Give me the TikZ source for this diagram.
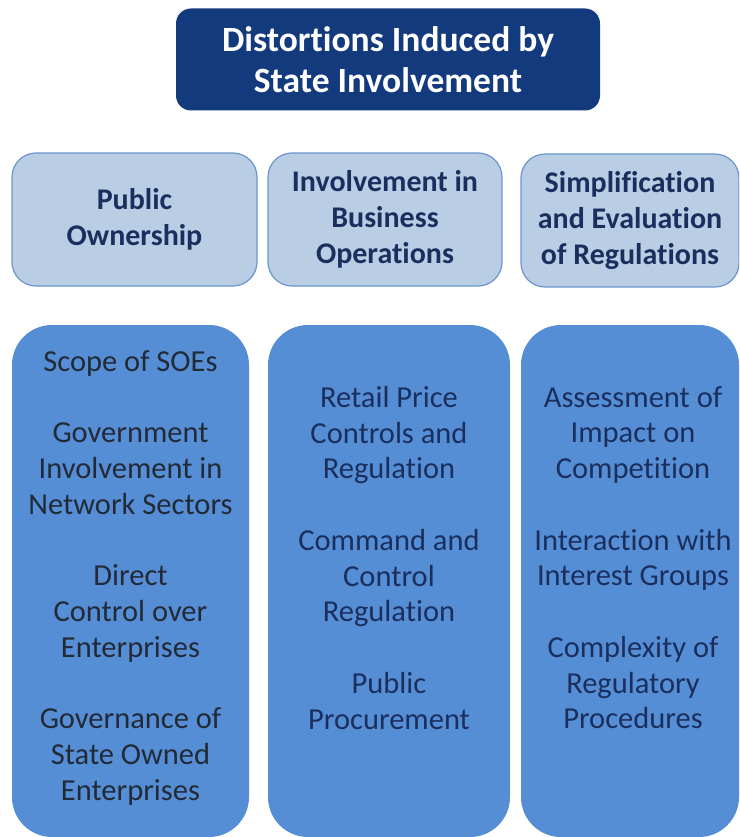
\documentclass[tikz,border=0pt]{standalone}
\usepackage{fontspec}
\setmainfont[Ligatures=NoCommon]{Carlito}
\usepackage{tikz}
\usetikzlibrary{positioning}
\definecolor{navy}{HTML}{133A7C}
\definecolor{paleblue}{HTML}{B9CDE5}
\definecolor{edgeblue}{HTML}{6B95CC}
\definecolor{midblue}{HTML}{558ED5}
\definecolor{inkblue}{HTML}{1B2F5E}
\definecolor{inkdark}{HTML}{222A38}
\tikzset{top/.style={fill=navy,rounded corners=15pt,minimum width=424pt,minimum height=102pt,text=white,align=center,font=\fontsize{35.5}{41}\selectfont\bfseries}}
\tikzset{head/.style={fill=paleblue,draw=edgeblue,line width=1.2pt,rounded corners=24pt,minimum height=133pt,text=inkblue,align=center,font=\fontsize{30}{35.7}\selectfont\bfseries}}
\tikzset{col/.style={fill=midblue,rounded corners=40pt,minimum height=512pt,inner sep=0pt}}
\tikzset{items/.style={anchor=north,inner sep=0pt,align=center,text=inkblue,font=\fontsize{30.5}{35.75}\selectfont}}

\begin{document}
\begin{tikzpicture}[x=1pt,y=-1pt]
        \useasboundingbox (0,0) rectangle (739,837);
        \clip (0,0) rectangle (739,837);
        % title
        \node[top] (dist) at (388,59.5) {Distortions Induced by\\State Involvement};
        % column heads
        \node[head,minimum width=245pt] (own) at (134.5,219.5) {Public\\Ownership};
        \node[head,minimum width=234pt] (bus) at (385,219.5) {Involvement in\\Business\\Operations};
        \node[head,minimum width=218pt] (reg) at (630,220.5) {Simplification\\and Evaluation\\of Regulations};
        % columns
        \node[col,minimum width=237pt] (owncol) at (130.5,581) {};
        \node[col,minimum width=242pt] (buscol) at (389,581) {};
        \node[col,minimum width=218pt] (regcol) at (630,581) {};
        \node[items,text=inkdark] (ownlist) at (130.5,350) {Scope of SOEs\\[35.75pt]
          Government\\Involvement in\\Network Sectors\\[35.75pt]
          Direct\\Control over\\Enterprises\\[35.75pt]
          Governance of\\State Owned\\Enterprises};
        \node[items] (buslist) at (389,386) {Retail Price\\Controls and\\Regulation\\[35.75pt]
          Command and\\Control\\Regulation\\[35.75pt]
          Public\\Procurement};
        \node[items] (reglist) at (633,386) {Assessment of\\Impact on\\Competition\\[35.75pt]
          Interaction with\\Interest Groups\\[35.75pt]
          Complexity of\\Regulatory\\Procedures};
      \end{tikzpicture}
\end{document}
